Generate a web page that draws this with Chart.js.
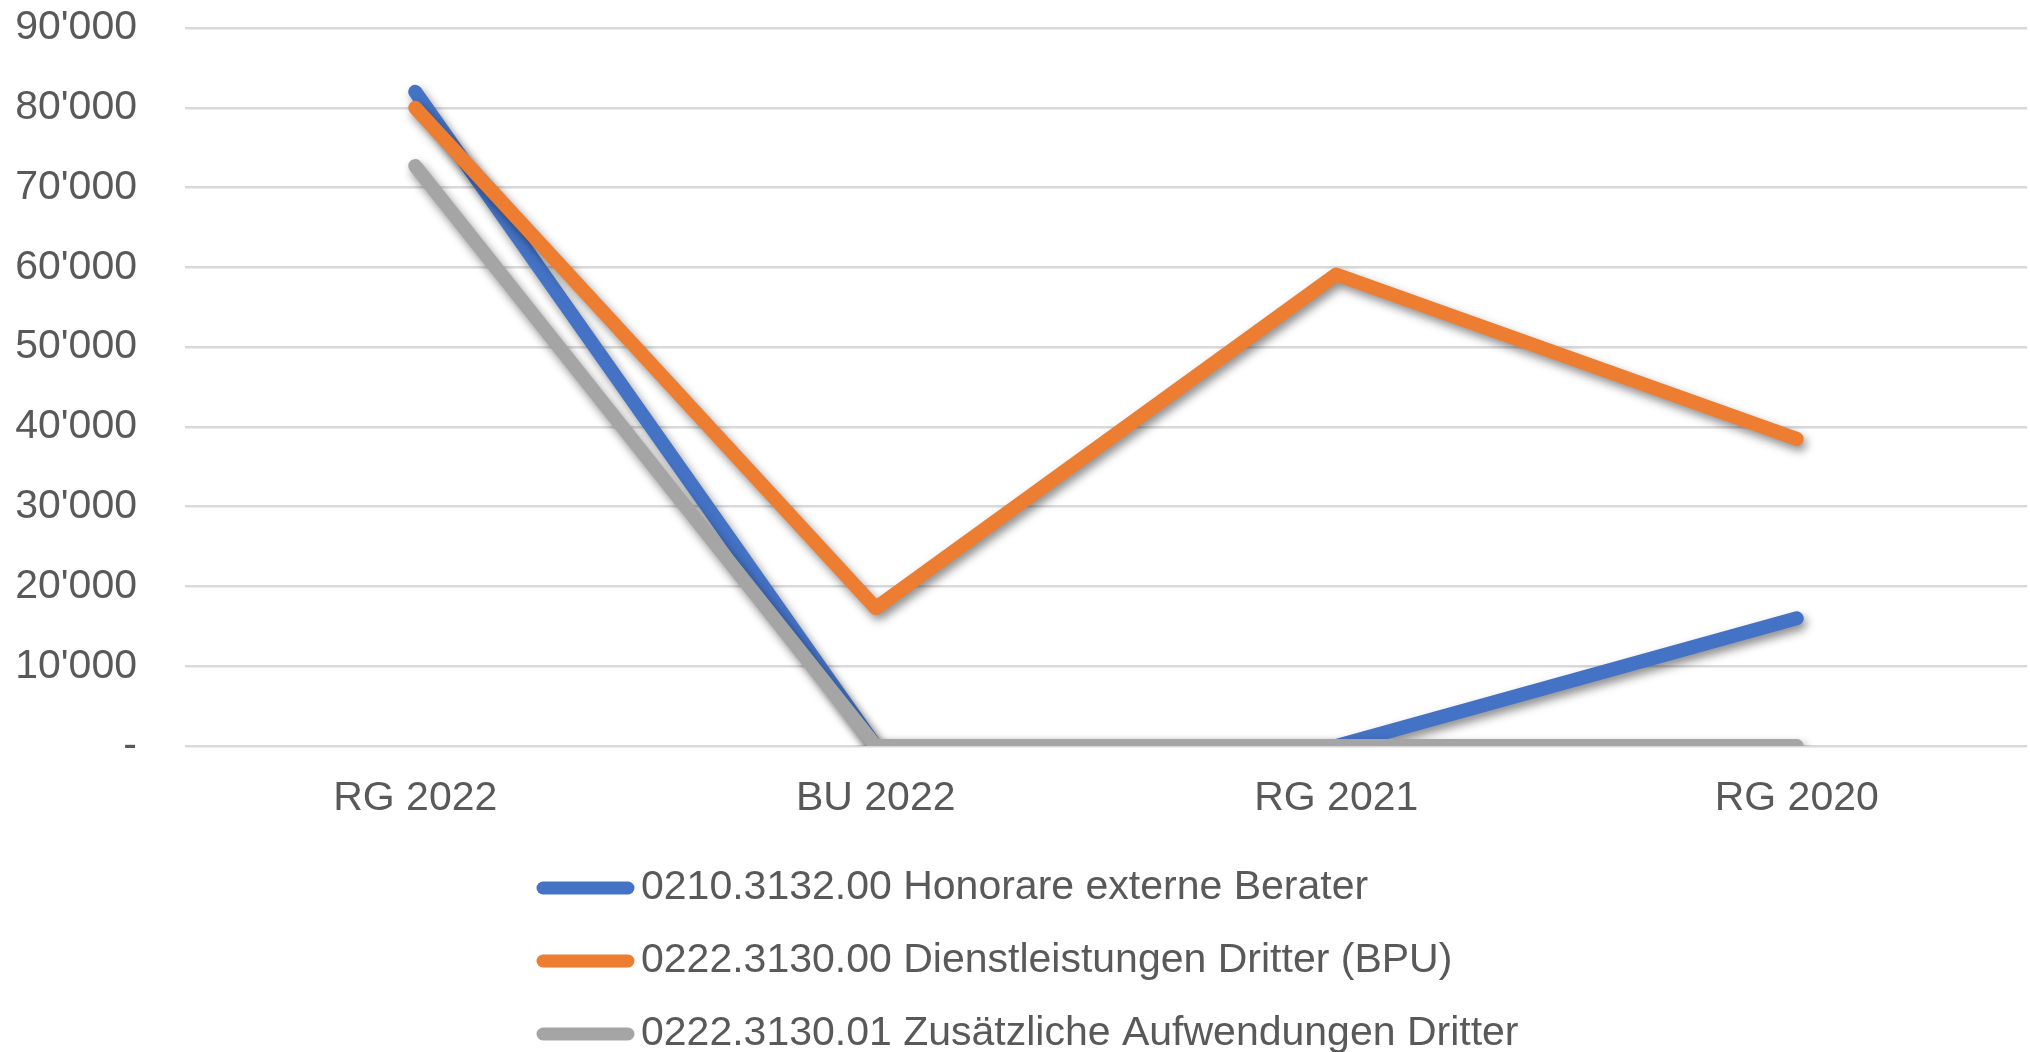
<!DOCTYPE html>
<html>
<head>
<meta charset="utf-8">
<script src="https://cdn.jsdelivr.net/npm/chart.js@4.4.0/dist/chart.umd.min.js"></script>
<style>
  html, body { margin: 0; padding: 0; background: #fff; }
  #wrap { position: relative; width: 2030px; height: 1052px; }
</style>
</head>
<body>
<div id="wrap"><canvas id="chart"></canvas></div>
<script>
// data
const categories = ['RG 2022', 'BU 2022', 'RG 2021', 'RG 2020'];
const seriesNames = [
    '0210.3132.00 Honorare externe Berater',
    '0222.3130.00 Dienstleistungen Dritter (BPU)',
    '0222.3130.01 Zusätzliche Aufwendungen Dritter'
];
const honorare = [82000, 0, 0, 16000];
const dienstleistungen = [80000, 17300, 59100, 38500];
const zusaetzliche = [72700, 0, 0, 0];
const yTicks = [0, 10000, 20000, 30000, 40000, 50000, 60000, 70000, 80000, 90000];

const colors = ['#4472C4', '#ED7D31', '#A5A5A5'];
const textColor = '#595959';

Chart.defaults.font.family = "'Liberation Sans', Arial, sans-serif";
Chart.defaults.font.size = 41;
Chart.defaults.color = textColor;

function fmt(v) {
    if (v === 0) return '-';
    return String(v).replace(/\B(?=(\d{3})+(?!\d))/g, "'");
}

// soft drop shadow under the lines, like the office chart
const lineShadow = {
    id: 'lineShadow',
    beforeDatasetDraw(chart) {
        const c = chart.ctx;
        c.save();
        c.shadowColor = 'rgba(0, 0, 0, 0.45)';
        c.shadowBlur = 10;
        c.shadowOffsetX = 3;
        c.shadowOffsetY = 5;
    },
    afterDatasetDraw(chart) {
        chart.ctx.restore();
    }
};

// stacked legend below the axis, left aligned as a block
const blockLegend = {
    id: 'blockLegend',
    afterDraw(chart) {
        const c = chart.ctx;
        const x0 = 537, lineLen = 97, textX = 641;
        let y = 888;
        c.save();
        chart.data.datasets.forEach(ds => {
            c.strokeStyle = ds.borderColor;
            c.lineWidth = 13;
            c.lineCap = 'round';
            c.beginPath();
            c.moveTo(x0 + 6, y);
            c.lineTo(x0 + lineLen - 6, y);
            c.stroke();
            c.fillStyle = textColor;
            c.font = "41px 'Liberation Sans', Arial, sans-serif";
            c.textBaseline = 'middle';
            c.fillText(ds.label, textX, y);
            y += 73;
        });
        c.restore();
    }
};

const ctx = document.getElementById('chart');

let lineChart = new Chart(ctx, {
    type: 'line',
    data: {
        labels: categories,
        datasets: [
            { label: seriesNames[0], data: honorare, borderColor: colors[0], order: 3 },
            { label: seriesNames[1], data: dienstleistungen, borderColor: colors[1], order: 2 },
            { label: seriesNames[2], data: zusaetzliche, borderColor: colors[2], order: 1 }
        ]
    },
    options: {
        responsive: true,
        maintainAspectRatio: false,
        animation: false,
        devicePixelRatio: 1,
        layout: { padding: { top: 28, right: 3, left: 0, bottom: 0 } },
        elements: {
            line: { borderWidth: 14, tension: 0, borderCapStyle: 'round', borderJoinStyle: 'round' },
            point: { radius: 0, hoverRadius: 0 }
        },
        plugins: {
            legend: { display: false },
            tooltip: { enabled: false }
        },
        scales: {
            x: {
                offset: true,
                grid: { display: false, drawTicks: false },
                border: { display: false },
                ticks: { padding: 28, color: textColor },
                afterFit(scale) { scale.height = 306; }
            },
            y: {
                min: 0,
                max: 90000,
                afterBuildTicks(scale) { scale.ticks = yTicks.map(v => ({ value: v })); },
                grid: { color: '#D9D9D9', lineWidth: 2.5, drawTicks: false },
                border: { display: false },
                ticks: { padding: 48, color: textColor, callback: v => fmt(v) },
                afterFit(scale) {
                    scale.width = 185;
                    scale.paddingTop = 0;
                    scale.paddingBottom = 0;
                }
            }
        }
    },
    plugins: [lineShadow, blockLegend]
});
</script>
</body>
</html>
